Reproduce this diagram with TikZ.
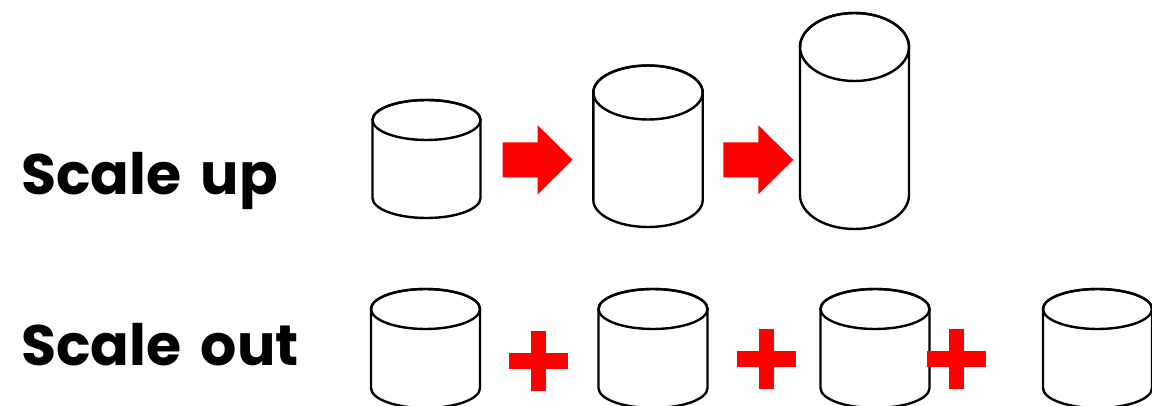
\documentclass[tikz,border=0pt]{standalone}
\usepackage{fontspec}
\newfontfamily\labelfont[WordSpace=1.6]{Poppins}
\begin{document}
% All positions are given in pixels measured from the top-left corner;
% the macros below turn the y value into TikZ's upward axis.
\newcommand\dbdrum[6]{% name, centre x, top-centre y, bottom-centre y, x radius, y radius
  \pgfmathsetmacro\dbT{405-#3}\pgfmathsetmacro\dbB{405-#4}
  \coordinate (#1) at (#2,\dbT);
  \draw[drumline,fill=white] (#2-#5,\dbT) -- (#2-#5,\dbB)
    arc[start angle=180,end angle=360,x radius=#5,y radius=#6]
    -- (#2+#5,\dbT)
    arc[start angle=0,end angle=180,x radius=#5,y radius=#6] -- cycle;
  \draw[drumline] (#2,\dbT) ellipse[x radius=#5,y radius=#6];
}
\newcommand\dbarrow[3]{% name, left x, centre y
  \pgfmathsetmacro\dbY{405-#3}
  \coordinate (#1) at (#2,\dbY);
  \fill[growred] (#2,\dbY-17.5) -- ++(35,0) -- ++(0,-17) -- (#2+70,\dbY)
    -- (#2+35,\dbY+34.5) -- ++(0,-17) -- (#2,\dbY+17.5) -- cycle;
}
\newcommand\dbplus[3]{% name, centre x, centre y
  \pgfmathsetmacro\dbY{405-#3}
  \coordinate (#1) at (#2,\dbY);
  \fill[growred] (#2-7.5,\dbY-30) rectangle (#2+7.5,\dbY+30);
  \fill[growred] (#2-29.5,\dbY-7.8) rectangle (#2+29.5,\dbY+7.8);
}
\begin{tikzpicture}[x=1pt,y=1pt,
    drumline/.style={line width=2.4pt,line join=round},
    growred/.style={fill=red},
    rowlabel/.style={anchor=base west,inner sep=0pt,
      font=\labelfont\bfseries\fontsize{57}{64}\selectfont}]
  \useasboundingbox (0,0) rectangle (1152,405);
  \begin{scope}
  \clip (0,0) rectangle (1152,405);
  % row labels
  \node[rowlabel] (up)  at (21,{405-194}) {Scale up};
  \node[rowlabel] (out) at (21,{405-365}) {Scale out};
  % scale up: one store growing taller
  \dbdrum{u1}{426.5}{120}{198}{54}{20}
  \dbarrow{ua}{502.7}{159.8}
  \dbdrum{u2}{648}{92.5}{200}{54.7}{27}
  \dbarrow{ub}{723.3}{159.8}
  \dbdrum{u3}{854.5}{47}{195}{54.5}{34}
  % scale out: more stores of the same size
  \dbdrum{o1}{425.5}{309}{388}{54.5}{20}
  \dbplus{pa}{538.5}{360.7}
  \dbdrum{o2}{653}{309}{388}{54.5}{20}
  \dbplus{pb}{766}{359}
  \dbdrum{o3}{875}{309}{388}{54.5}{20}
  \dbplus{pc}{956}{359}
  \dbdrum{o4}{1097.5}{309}{388}{54.5}{20}
  \end{scope}
\end{tikzpicture}
\end{document}
